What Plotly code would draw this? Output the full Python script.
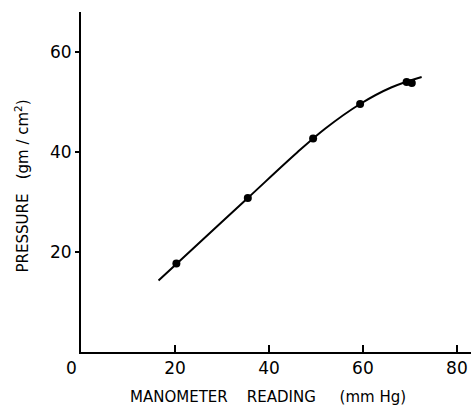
import plotly.graph_objects as go

# Measured data points
manometer_mmhg = [20.3, 35.5, 49.4, 59.4, 69.3, 70.4]
pressure_gm_cm2 = [17.7, 30.8, 42.7, 49.6, 54.0, 53.8]

# Fitted calibration curve
curve_x = [16.5, 20.3, 35.5, 46.0, 52.0, 59.4, 66.0, 72.5]
curve_y = [14.3, 17.6, 30.8, 39.9, 44.7, 49.6, 52.9, 55.0]

x_ticks = [20, 40, 60, 80]
y_ticks = [20, 40, 60]

FONT = "DejaVu Sans"
NB = "\u00a0"

fig = go.Figure()
fig.add_trace(go.Scatter(x=curve_x, y=curve_y, mode="lines",
                         line=dict(color="black", width=2, shape="spline", smoothing=1.0),
                         hoverinfo="skip", showlegend=False))
fig.add_trace(go.Scatter(x=manometer_mmhg, y=pressure_gm_cm2, mode="markers",
                         marker=dict(color="black", size=8),
                         showlegend=False))

fig.update_layout(
    width=471, height=406,
    margin=dict(l=81, r=0, t=12, b=54),
    paper_bgcolor="white", plot_bgcolor="white",
    font=dict(family=FONT, color="black"),
    xaxis=dict(range=[0, 83], tickvals=x_ticks, ticks="inside", ticklen=7, tickwidth=1.5,
               tickcolor="black", showline=True, linecolor="black", linewidth=2,
               showgrid=False, zeroline=False, tickfont=dict(size=17, family=FONT)),
    yaxis=dict(range=[0, 68], tickvals=y_ticks, ticks="outside", ticklen=4, tickwidth=1.5,
               tickcolor="black", showline=True, linecolor="black", linewidth=2,
               showgrid=False, zeroline=False, tickfont=dict(size=17, family=FONT)),
    annotations=[
        dict(text="0", xref="paper", yref="paper", x=-9.5 / 390, y=0, yshift=-16,
             showarrow=False, xanchor="center", yanchor="middle",
             font=dict(size=17, family=FONT)),
        dict(text="MANOMETER" + NB * 4 + "READING" + NB * 5 + "(mm Hg)", xref="paper", yref="paper",
             x=(268 - 81) / 390, y=-(397 - 351.7) / 340, showarrow=False,
             xanchor="center", yanchor="middle", font=dict(size=15, family=FONT)),
        dict(text="PRESSURE" + NB * 3 + "(gm" + NB + "/" + NB + "cm<sup>2</sup>)", xref="paper", yref="paper",
             x=(21.7 - 81) / 390, y=(351.7 - 185.5) / 340, textangle=-90, showarrow=False,
             xanchor="center", yanchor="middle", font=dict(size=15, family=FONT)),
    ],
)

fig.write_html(
    "out.html",
    config={"displayModeBar": False},
    post_script="document.body.style.margin='0';document.body.style.overflow='hidden';",
)
